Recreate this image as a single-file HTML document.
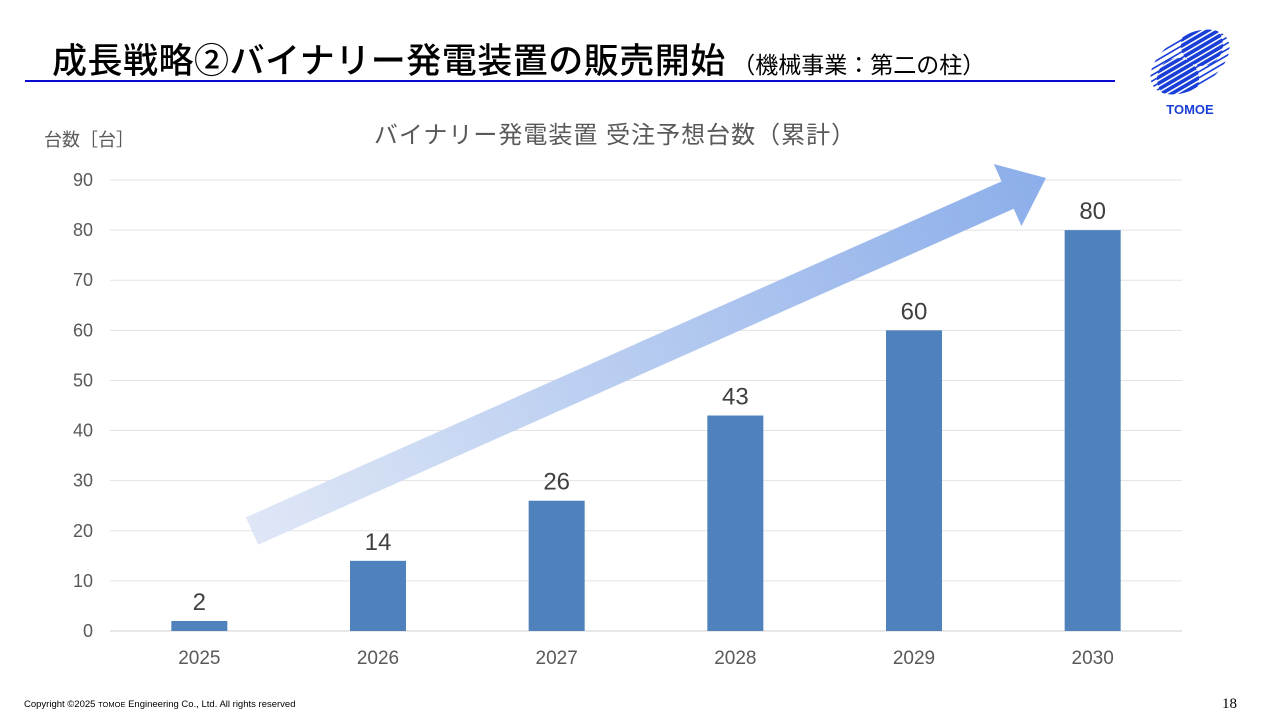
<!DOCTYPE html>
<html><head><meta charset="utf-8"><style>
body{margin:0;width:1280px;height:720px;background:#fff;position:relative;overflow:hidden;font-family:"Liberation Sans","Noto Sans CJK JP",sans-serif}
.abs{position:absolute}
</style></head><body>
<div class="abs" style="left:52px;top:33px;font-size:35px;font-weight:500;color:#000;white-space:nowrap;letter-spacing:0.5px">成長戦略②バイナリー発電装置の販売開始<span style="font-size:23px;font-weight:normal;letter-spacing:0"> （機械事業：第二の柱）</span></div>
<div class="abs" style="left:25px;top:80px;width:1090px;height:2px;background:#0a0ad0"></div>
<svg class="abs" style="left:1140px;top:18px" width="100" height="100" viewBox="0 0 100 100">
<defs><clipPath id="lc"><ellipse cx="50" cy="44" rx="44" ry="26" transform="rotate(-33 50 44)"/></clipPath>
<clipPath id="cc"><circle cx="62" cy="27" r="21"/><circle cx="38" cy="61" r="21"/></clipPath></defs>
<g clip-path="url(#lc)" stroke="#1a3fd6" stroke-width="1.6">
<g id="st"><line x1="-10" y1="70" x2="110" y2="0"/><line x1="-10" y1="76" x2="110" y2="6"/><line x1="-10" y1="82" x2="110" y2="12"/><line x1="-10" y1="88" x2="110" y2="18"/><line x1="-10" y1="94" x2="110" y2="24"/><line x1="-10" y1="100" x2="110" y2="30"/><line x1="-10" y1="106" x2="110" y2="36"/><line x1="-10" y1="112" x2="110" y2="42"/><line x1="-10" y1="64" x2="110" y2="-6"/><line x1="-10" y1="58" x2="110" y2="-12"/><line x1="-10" y1="52" x2="110" y2="-18"/><line x1="-10" y1="118" x2="110" y2="48"/><line x1="-10" y1="124" x2="110" y2="54"/></g>
<g clip-path="url(#cc)" stroke-width="3.6"><use href="#st"/></g>
</g>
<text x="50" y="96" text-anchor="middle" font-family="Liberation Sans" font-weight="bold" font-size="13" fill="#1a3fd6">TOMOE</text>
</svg>
<svg class="abs" id="chart" style="left:0;top:0" width="1280" height="720"></svg>
<div class="abs" style="left:24px;top:699px;font-size:9.5px;color:#000">Copyright ©2025 <span style="font-size:7.5px">TOMOE</span> Engineering Co., Ltd. All rights reserved</div>
<div class="abs" style="left:1222px;top:696px;font-size:15px;font-family:'Liberation Serif',serif">18</div>
<script>
const categories=["2025","2026","2027","2028","2029","2030"];
const values=[2,14,26,43,60,80];
const yTicks=[0,10,20,30,40,50,60,70,80,90];
const NS="http://www.w3.org/2000/svg";
const svg=document.getElementById('chart');
const x0=110,x1=1182,yb=631,yt=180,ymax=90;
const bw=(x1-x0)/categories.length;
const y=v=>yb-(v/ymax)*(yb-yt);
const xc=i=>x0+bw*(i+0.5);
function mk(t,a){const e=document.createElementNS(NS,t);for(const k in a)e.setAttribute(k,a[k]);svg.appendChild(e);return e;}
const tt=mk('text',{x:615,y:143,'text-anchor':'middle','font-size':24,fill:'#595959','letter-spacing':1});


tt.textContent='バイナリー発電装置 受注予想台数（累計）';
const ya=mk('text',{x:44,y:146,'font-size':18,fill:'#595959'});


ya.textContent='台数［台］';
yTicks.forEach(v=>{
 const g=mk('line',{x1:x0,x2:x1,y1:y(v),y2:y(v),stroke:v===0?'#d0d0d0':'#e3e3e3','stroke-width':1});
 
 
 const t=mk('text',{x:93,y:y(v)+6,'text-anchor':'end','font-size':18,fill:'#595959'});
 
 
 t.textContent=v;
});
categories.forEach((c,i)=>{
 const r=mk('rect',{x:xc(i)-28,y:y(values[i]),width:56,height:yb-y(values[i]),fill:'#4f81bd'});
 
 
 const l=mk('text',{x:xc(i),y:y(values[i])-11,'text-anchor':'middle','font-size':24,fill:'#404040'});
 
 
 l.textContent=values[i];
 const xl=mk('text',{x:xc(i),y:664,'text-anchor':'middle','font-size':19,fill:'#595959'});
 
 
 xl.textContent=c;
});
const defs=mk('defs',{});
defs.innerHTML='<linearGradient id="ag" x1="0" x2="1" y1="0" y2="0"><stop offset="0" stop-color="#dfe7f6"/><stop offset="1" stop-color="#8caeea"/></linearGradient>';
const sx=252,sy=531,ex=1046,ey=178;
const L=Math.hypot(ex-sx,ey-sy),ang=Math.atan2(ey-sy,ex-sx)*180/Math.PI;
const ar=mk('polygon',{points:`0,-15 ${L-42},-15 ${L-42},-34 ${L},0 ${L-42},34 ${L-42},15 0,15`,fill:'url(#ag)',transform:`translate(${sx},${sy}) rotate(${ang})`});


</script>
</body></html>
